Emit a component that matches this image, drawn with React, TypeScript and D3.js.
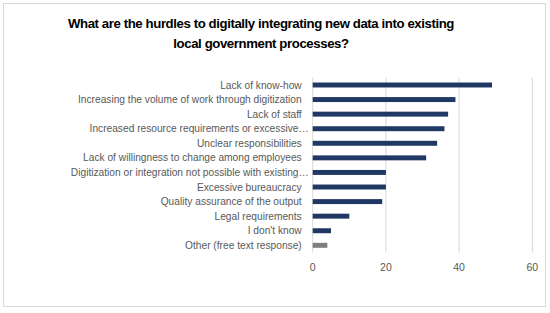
import React, { useRef, useEffect } from "react";
import * as d3 from "d3";

const categories = [
  "Lack of know-how",
  "Increasing the volume of work through digitization",
  "Lack of staff",
  "Increased resource requirements or excessive…",
  "Unclear responsibilities",
  "Lack of willingness to change among employees",
  "Digitization or integration not possible with existing…",
  "Excessive bureaucracy",
  "Quality assurance of the output",
  "Legal requirements",
  "I don't know",
  "Other (free text response)",
];
const values = [49, 39, 37, 36, 34, 31, 20, 20, 19, 10, 5, 4];
const xTicks = [0, 20, 40, 60];
const titleLines = [
  "What are the hurdles to digitally integrating new data into existing",
  "local government processes?",
];

export default function App() {
  const svgRef = useRef<SVGSVGElement>(null);

  useEffect(() => {
    const width = 550,
      height = 313;
    const margin = { top: 77.7, right: 17.7, bottom: 60.4, left: 312.7 };
    const innerW = width - margin.left - margin.right;
    const innerH = height - margin.top - margin.bottom;

    const svg = d3.select(svgRef.current);
    svg.selectAll("*").remove();

    svg
      .append("rect")
      .attr("x", 3.5)
      .attr("y", 3.5)
      .attr("width", 542)
      .attr("height", 303)
      .attr("fill", "white")
      .attr("stroke", "#d9d9d9");

    svg
      .append("g")
      .selectAll("text")
      .data(titleLines)
      .join("text")
      .attr("x", 261)
      .attr("y", (d, i) => 28 + i * 20)
      .attr("text-anchor", "middle")
      .style("font", "bold 13.2px 'Liberation Sans', Arial, sans-serif")
      .style("letter-spacing", "-0.4px")
      .attr("fill", "#000")
      .text((d) => d);

    const g = svg
      .append("g")
      .attr("transform", `translate(${margin.left},${margin.top})`);

    const x = d3.scaleLinear().domain([0, 60]).range([0, innerW]);
    const y = d3
      .scaleBand()
      .domain(categories)
      .range([0, innerH])
      .paddingInner(0.66)
      .paddingOuter(0.33);

    g.append("g")
      .selectAll("line")
      .data(xTicks.slice(1))
      .join("line")
      .attr("x1", (d) => x(d))
      .attr("x2", (d) => x(d))
      .attr("y1", 0)
      .attr("y2", innerH)
      .attr("stroke", "#d9d9d9");

    g.append("line")
      .attr("x1", 0)
      .attr("x2", 0)
      .attr("y1", 0)
      .attr("y2", innerH)
      .attr("stroke", "#d9d9d9");

    g.append("g")
      .selectAll("rect")
      .data(values)
      .join("rect")
      .attr("x", 0)
      .attr("y", (d, i) => y(categories[i])!)
      .attr("width", (d) => x(d))
      .attr("height", y.bandwidth())
      .attr("fill", (d, i) => (i === categories.length - 1 ? "#7f7f7f" : "#203864"));

    g.append("g")
      .selectAll("text")
      .data(categories)
      .join("text")
      .attr("x", (d) => (d.endsWith("…") ? -4 : -11))
      .attr("y", (d) => y(d)! + y.bandwidth() / 2)
      .attr("dy", "0.35em")
      .attr("text-anchor", "end")
      .style("font", "10.2px 'Liberation Sans', Arial, sans-serif")
      .attr("fill", "#595959")
      .text((d) => d);

    g.append("g")
      .selectAll("text")
      .data(xTicks)
      .join("text")
      .attr("x", (d) => x(d))
      .attr("y", innerH + 15)
      .attr("dy", "0.35em")
      .attr("text-anchor", "middle")
      .style("font", "10.5px 'Liberation Sans', Arial, sans-serif")
      .attr("fill", "#595959")
      .text((d) => d);
  }, []);

  return (
    <svg
      ref={svgRef}
      width={550}
      height={313}
      style={{ position: "absolute", left: 0, top: 0 }}
    ></svg>
  );
}
